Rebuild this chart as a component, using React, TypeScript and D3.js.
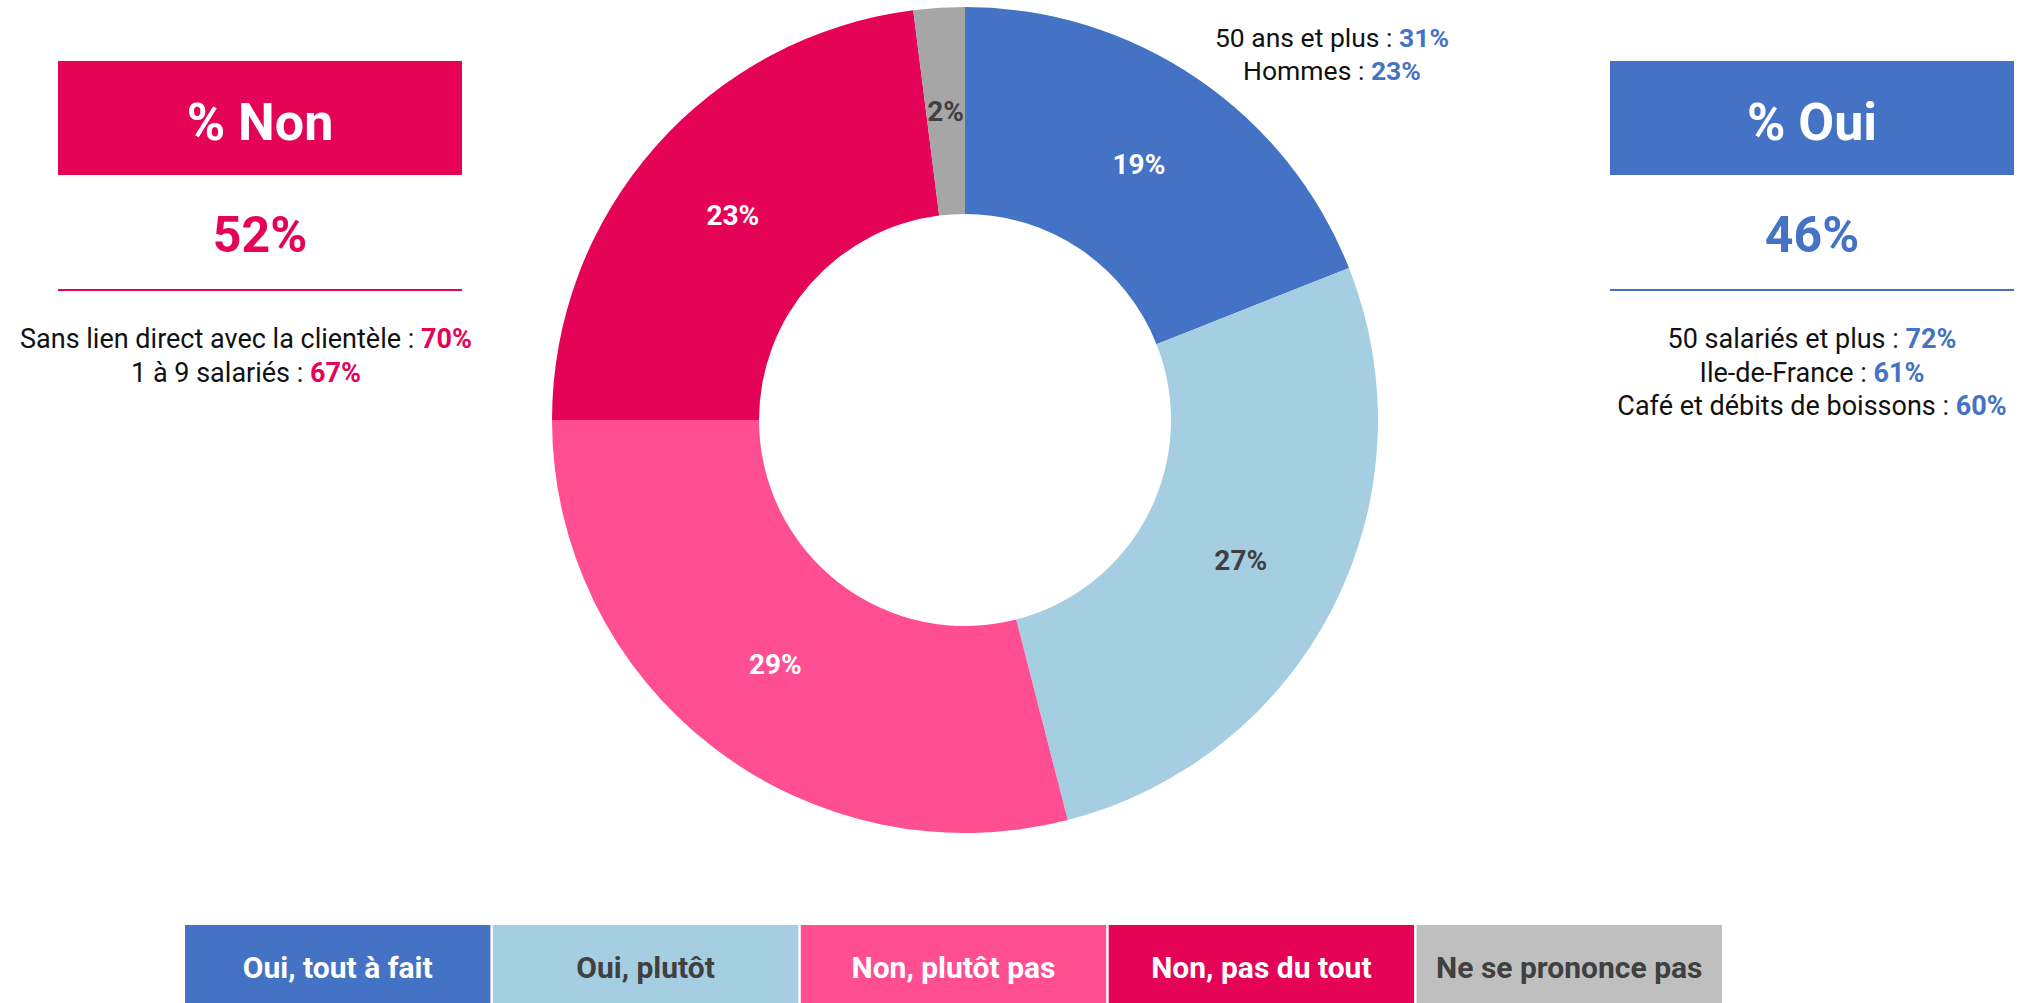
import * as d3 from "d3";

const WIDTH = 2019;
const HEIGHT = 1003;

const categories = ["Oui, tout à fait", "Oui, plutôt", "Non, plutôt pas", "Non, pas du tout", "Ne se prononce pas"];
const values = [19, 27, 29, 23, 2];
const sliceColors = ["#4472C4", "#A6CEE2", "#FF4F92", "#E40357", "#A6A6A6"];
const legendColors = ["#4472C4", "#A6CEE2", "#FF4F92", "#E40357", "#BFBFBF"];
const labelColors = ["#FFFFFF", "#404040", "#FFFFFF", "#FFFFFF", "#404040"];

const nonTotal = "52%";
const ouiTotal = "46%";
const nonDetails = [
  { label: "Sans lien direct avec la clientèle : ", value: "70%" },
  { label: "1 à 9 salariés : ", value: "67%" },
];
const ouiDetails = [
  { label: "50 salariés et plus : ", value: "72%" },
  { label: "Ile-de-France : ", value: "61%" },
  { label: "Café et débits de boissons : ", value: "60%" },
];
const topDetails = [
  { label: "50 ans et plus : ", value: "31%" },
  { label: "Hommes : ", value: "23%" },
];

const BLUE = "#4472C4";
const RED = "#E40357";
const FONT = "Roboto, 'Noto Sans', sans-serif";

const CX = 965;
const CY = 420;
const R_OUT = 413;
const R_IN = 206;

type Detail = { label: string; value: string };

const Panel = ({ x, title, total, color, details, textCx }: { x: number; title: string; total: string; color: string; details: Detail[]; textCx: number }) => {
  const w = 404;
  return (
    <g>
      <rect x={x} y={61} width={w} height={114} fill={color} />
      <text x={x + w / 2} y={140} textAnchor="middle" fill="#fff" fontSize={52} fontWeight={700} fontFamily={FONT}>{title}</text>
      <text x={x + w / 2} y={252} textAnchor="middle" fill={color} fontSize={50} fontWeight={700} fontFamily={FONT}>{total}</text>
      <line x1={x} x2={x + w} y1={290} y2={290} stroke={color} strokeWidth={2} />
      {details.map((d, i) => (
        <text key={i} x={textCx} y={348 + i * 33.5} textAnchor="middle" fontSize={27} fontFamily={FONT} fill="#111">
          {d.label}
          <tspan fill={color} fontWeight={700}>{d.value}</tspan>
        </text>
      ))}
    </g>
  );
};

export default function App() {
  const pie = d3.pie<number>().sort(null).value((d) => d);
  const arcs = pie(values);
  const arc = d3.arc<d3.PieArcDatum<number>>().innerRadius(R_IN).outerRadius(R_OUT);

  const legendX = d3.scaleBand<string>().domain(categories).range([185, 1722]).paddingInner(0.008);

  return (
    <div style={{ position: "absolute", left: 0, top: 0 }}>
      <svg width={WIDTH} height={HEIGHT} style={{ display: "block" }}>
        <rect width={WIDTH} height={HEIGHT} fill="#fff" />
        <g transform={`translate(${CX},${CY})`}>
          {arcs.map((a, i) => (
            <path key={i} d={arc(a) || ""} fill={sliceColors[i]} />
          ))}
          {arcs.map((a, i) => {
            const [lx, ly] = arc.centroid(a);
            return (
              <text
                key={i}
                x={lx}
                y={ly}
                textAnchor="middle"
                dominantBaseline="central"
                fill={labelColors[i]}
                fontSize={28}
                fontWeight={700}
                fontFamily={FONT}
              >
                {values[i]}%
              </text>
            );
          })}
        </g>

        {topDetails.map((d, i) => (
          <text key={i} x={1332} y={47 + i * 33} textAnchor="middle" fontSize={26.5} fontFamily={FONT} fill="#111">
            {d.label}
            <tspan fill={BLUE} fontWeight={700}>{d.value}</tspan>
          </text>
        ))}

        <Panel x={58} title="% Non" total={nonTotal} color={RED} details={nonDetails} textCx={246} />
        <Panel x={1610} title="% Oui" total={ouiTotal} color={BLUE} details={ouiDetails} textCx={1812} />

        {categories.map((c, i) => (
          <g key={c}>
            <rect x={legendX(c)} y={925} width={legendX.bandwidth()} height={90} fill={legendColors[i]} />
            <text
              x={(legendX(c) || 0) + legendX.bandwidth() / 2}
              y={967}
              textAnchor="middle"
              dominantBaseline="central"
              fill={labelColors[i]}
              fontSize={30}
              fontWeight={700}
              fontFamily={FONT}
            >
              {c}
            </text>
          </g>
        ))}
      </svg>
    </div>
  );
}
